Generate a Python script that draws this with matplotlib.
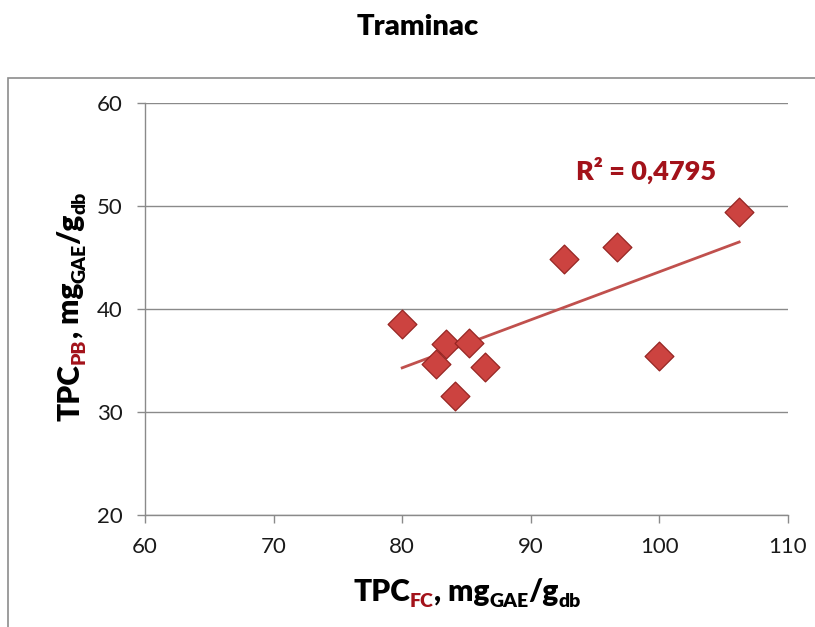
import numpy as np
import matplotlib
matplotlib.use("Agg")
import matplotlib.pyplot as plt
import matplotlib.transforms as mtransforms
from matplotlib.patches import Rectangle

# ---- data ----
tpc_fc = [80.0, 83.4, 85.2, 82.6, 86.4, 84.1, 92.6, 96.7, 100.0, 106.2]
tpc_pb = [38.5, 36.6, 36.7, 34.7, 34.4, 31.6, 44.9, 46.0, 35.4, 49.4]
x_ticks = [60, 70, 80, 90, 100, 110]
y_ticks = [20, 30, 40, 50, 60]
title = "Traminac"
r2_label = "R² = 0,4795"

FONT = "Lato"
DARKRED = "#A3121A"
W, H = 815, 627
fig = plt.figure(figsize=(W / 100, H / 100), dpi=100)

# outer chart frame
fig.patches.append(Rectangle((8 / W, -0.05), 1.2, (H - 78) / H + 0.05,
                             transform=fig.transFigure, fill=False,
                             edgecolor="#8c8c8c", linewidth=1.2))

ax = fig.add_axes([145 / W, (H - 515) / H, (788 - 145) / W, (515 - 103) / H])
ax.set_xlim(60, 110)
ax.set_ylim(20, 60)
ax.set_xticks(x_ticks)
ax.set_yticks(y_ticks)
ax.grid(axis="y", color="#8a8a8a", linewidth=1.0)
ax.set_axisbelow(True)
for s in ["top", "right"]:
    ax.spines[s].set_visible(False)
for s in ["left", "bottom"]:
    ax.spines[s].set_color("#8a8a8a")
    ax.spines[s].set_linewidth(1.0)
ax.tick_params(direction="out", length=6, width=1.0, color="#8a8a8a",
               labelsize=16, labelcolor="#1a1a1a", pad=10)
for lab in ax.get_xticklabels() + ax.get_yticklabels():
    lab.set_fontfamily(FONT)

# trend line
coef = np.polyfit(tpc_fc, tpc_pb, 1)
xs = np.array([min(tpc_fc), max(tpc_fc)])
ax.plot(xs, np.polyval(coef, xs), color="#C0504D", linewidth=2.0, zorder=2)

ax.scatter(tpc_fc, tpc_pb, marker="D", s=215, color="#CC4340",
           edgecolor="#962522", linewidth=0.9, zorder=3)

fig.text(576, H - 170, r2_label, transform=mtransforms.IdentityTransform(),
         fontfamily=FONT, fontweight="heavy", fontsize=19.5, color=DARKRED,
         va="center", ha="left")

fig.text(418 / W, 1 - 27 / H, title, fontfamily=FONT, fontweight="heavy",
         fontsize=21, ha="center", va="center")

renderer = fig.canvas.get_renderer()


def draw_runs(cx, cy, runs, vertical=False):
    """runs: list of (text, size, color, shift_px). cx, cy in pixels from top-left."""
    cy_disp = H - cy
    texts = []
    total = 0
    for txt, size, color, shift in runs:
        t = fig.text(0, 0, txt, transform=mtransforms.IdentityTransform(),
                     fontfamily=FONT, fontweight="heavy", fontsize=size,
                     color=color, rotation=90 if vertical else 0,
                     rotation_mode="anchor", ha="left", va="baseline")
        bb = t.get_window_extent(renderer)
        adv = bb.height if vertical else bb.width
        texts.append((t, adv, shift))
        total += adv
    pos = -total / 2
    for t, adv, shift in texts:
        if vertical:
            t.set_position((cx + shift, cy_disp + pos))
        else:
            t.set_position((cx + pos, cy_disp - shift))
        pos += adv


MAIN, SUB = 21.5, 14
draw_runs(467, 601, [("TPC", MAIN, "black", 0), ("FC", SUB, DARKRED, 6),
                     (", mg", MAIN, "black", 0), ("GAE", SUB, "black", 6),
                     ("/g", MAIN, "black", 0), ("db", SUB, "black", 6)])
draw_runs(79, 306, [("TPC", MAIN, "black", 0), ("PB", SUB, DARKRED, 6),
                    (", mg", MAIN, "black", 0), ("GAE", SUB, "black", 6),
                    ("/g", MAIN, "black", 0), ("db", SUB, "black", 6)],
          vertical=True)

fig.savefig("out.png", dpi=100)
